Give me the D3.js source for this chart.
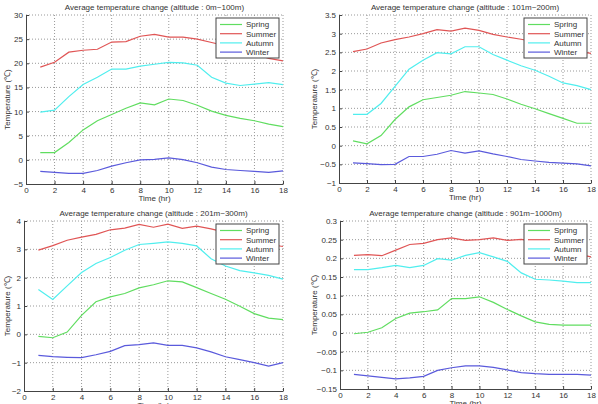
<!DOCTYPE html>
<html>
<head>
<meta charset="utf-8">
<script src="https://cdn.jsdelivr.net/npm/d3@7"></script>
<style>
  body { margin: 0; background: #fff; }
  svg { display: block; font-family: "Liberation Sans", Arial, sans-serif; }
  .tick-label { font-size: 8px; fill: #333; }
  .title { font-size: 8px; fill: #333; }
  .axis-label { font-size: 8px; fill: #333; }
  .legend-text { font-size: 8px; fill: #333; }
</style>
</head>
<body>
<div id="chart"></div>
<script>
// hours of the day
let hours = [1, 2, 3, 4, 5, 6, 7, 8, 9, 10, 11, 12, 13, 14, 15, 16, 17, 18];
let xTicks = [0, 2, 4, 6, 8, 10, 12, 14, 16, 18];
let seasons = ["Spring", "Summer", "Autumn", "Winter"];
let seasonColors = ["#60dd60", "#e05555", "#50eeee", "#5a5adc"];

let titles = [
    "Average temperature change (altitude : 0m~100m)",
    "Average temperature change (altitude : 101m~200m)",
    "Average temperature change (altitude : 201m~300m)",
    "Average temperature change (altitude : 901m~1000m)"
];

// y tick labels for each panel
let yTicks1 = [-5, 0, 5, 10, 15, 20, 25, 30];
let yTicks2 = [-1, -0.5, 0, 0.5, 1, 1.5, 2, 2.5, 3, 3.5];
let yTicks3 = [-2, -1, 0, 1, 2, 3, 4];
let yTicks4 = [-0.15, -0.1, -0.05, 0, 0.05, 0.1, 0.15, 0.2, 0.25, 0.3];

// altitude 0m~100m
let spring1 = [1.5, 1.5, 3.6, 6.2, 8.1, 9.4, 10.7, 11.8, 11.4, 12.6, 12.3, 11.3, 10.1, 9.2, 8.6, 8.1, 7.4, 6.9];
let summer1 = [19.2, 20.2, 22.3, 22.7, 22.9, 24.4, 24.5, 25.6, 26.0, 25.4, 25.4, 25.0, 24.3, 23.6, 22.8, 22.0, 21.0, 20.5];
let autumn1 = [9.9, 10.3, 13.1, 15.6, 17.1, 18.8, 18.8, 19.4, 19.8, 20.2, 20.1, 19.6, 17.1, 15.9, 15.4, 15.7, 16.0, 15.6];
let winter1 = [-2.4, -2.6, -2.8, -2.8, -2.2, -1.3, -0.6, 0.0, 0.1, 0.4, 0.05, -0.6, -1.5, -2.0, -2.2, -2.4, -2.6, -2.3];

// altitude 101m~200m
let spring2 = [0.13, 0.05, 0.27, 0.70, 1.04, 1.23, 1.29, 1.35, 1.45, 1.41, 1.37, 1.25, 1.11, 0.99, 0.86, 0.73, 0.60, 0.60];
let summer2 = [2.52, 2.59, 2.75, 2.84, 2.91, 3.00, 3.11, 3.07, 3.15, 3.09, 2.98, 2.91, 2.85, 2.78, 2.70, 2.62, 2.53, 2.47];
let autumn2 = [0.84, 0.84, 1.13, 1.59, 2.05, 2.29, 2.49, 2.46, 2.65, 2.65, 2.44, 2.29, 2.14, 2.02, 1.86, 1.68, 1.61, 1.50];
let winter2 = [-0.46, -0.48, -0.51, -0.50, -0.29, -0.29, -0.23, -0.13, -0.20, -0.14, -0.22, -0.29, -0.37, -0.41, -0.45, -0.47, -0.49, -0.54];

// altitude 201m~300m
let spring3 = [-0.07, -0.12, 0.08, 0.67, 1.15, 1.32, 1.44, 1.64, 1.75, 1.89, 1.85, 1.65, 1.44, 1.24, 0.99, 0.73, 0.57, 0.52];
let summer3 = [2.97, 3.13, 3.32, 3.43, 3.53, 3.69, 3.75, 3.88, 3.78, 3.89, 3.74, 3.82, 3.72, 3.60, 3.45, 3.30, 3.18, 3.10];
let autumn3 = [1.58, 1.23, 1.71, 2.18, 2.50, 2.71, 2.97, 3.17, 3.21, 3.26, 3.21, 3.12, 2.67, 2.41, 2.25, 2.17, 2.08, 1.95];
let winter3 = [-0.74, -0.79, -0.81, -0.82, -0.72, -0.60, -0.40, -0.36, -0.30, -0.39, -0.39, -0.48, -0.62, -0.79, -0.89, -1.00, -1.12, -1.00];

// altitude 901m~1000m
let spring4 = [-0.002, 0.002, 0.014, 0.039, 0.053, 0.057, 0.062, 0.092, 0.092, 0.097, 0.082, 0.063, 0.046, 0.030, 0.023, 0.021, 0.021, 0.021];
let summer4 = [0.208, 0.210, 0.207, 0.222, 0.237, 0.240, 0.250, 0.255, 0.248, 0.250, 0.255, 0.248, 0.251, 0.245, 0.235, 0.225, 0.212, 0.204];
let autumn4 = [0.170, 0.170, 0.175, 0.181, 0.175, 0.181, 0.199, 0.195, 0.208, 0.215, 0.204, 0.192, 0.161, 0.144, 0.142, 0.139, 0.135, 0.135];
let winter4 = [-0.111, -0.115, -0.119, -0.123, -0.120, -0.116, -0.100, -0.093, -0.088, -0.088, -0.092, -0.099, -0.106, -0.109, -0.111, -0.111, -0.111, -0.113];

// plot boxes in page pixels
let panels = [
    {left: 26, right: 283, top: 15, bottom: 184, yTicks: yTicks1, series: [spring1, summer1, autumn1, winter1], yLabelX: 7},
    {left: 339, right: 591, top: 15, bottom: 183, yTicks: yTicks2, series: [spring2, summer2, autumn2, winter2], yLabelX: 314},
    {left: 24, right: 283, top: 221, bottom: 391, yTicks: yTicks3, series: [spring3, summer3, autumn3, winter3], yLabelX: 7},
    {left: 340, right: 591, top: 221, bottom: 389, yTicks: yTicks4, series: [spring4, summer4, autumn4, winter4], yLabelX: 314}
];

let svg = d3.select("#chart").append("svg")
    .attr("width", 598)
    .attr("height", 404);

panels.forEach((p, i) => drawPanel(p, titles[i]));

function drawPanel(p, title){
    let g = svg.append("g");

    let xScale = d3.scaleLinear()
        .domain([0, 18])
        .range([p.left, p.right]);

    let yScale = d3.scaleLinear()
        .domain(d3.extent(p.yTicks))
        .range([p.bottom, p.top]);

    // dotted grid
    g.append("g")
        .selectAll("line")
        .data(xTicks.slice(1))
        .join("line")
        .attr("x1", d => xScale(d)).attr("x2", d => xScale(d))
        .attr("y1", p.top).attr("y2", p.bottom)
        .attr("stroke", "#999")
        .attr("stroke-dasharray", "1,2");

    g.append("g")
        .selectAll("line")
        .data(p.yTicks.slice(1))
        .join("line")
        .attr("x1", p.left).attr("x2", p.right)
        .attr("y1", d => yScale(d)).attr("y2", d => yScale(d))
        .attr("stroke", "#999")
        .attr("stroke-dasharray", "1,2");

    // axes (matlab style: ticks pointing inwards)
    let xAxis = d3.axisBottom(xScale)
        .tickValues(xTicks)
        .tickSizeInner(-3)
        .tickSizeOuter(0)
        .tickPadding(3);

    let xg = g.append("g")
        .attr("transform", "translate(0," + p.bottom + ")")
        .call(xAxis);

    let yAxis = d3.axisLeft(yScale)
        .tickValues(p.yTicks)
        .tickFormat(d3.format("~g"))
        .tickSizeInner(-3)
        .tickSizeOuter(0)
        .tickPadding(3);

    let yg = g.append("g")
        .attr("transform", "translate(" + p.left + ",0)")
        .call(yAxis);

    [xg, yg].forEach(a => {
        a.select(".domain").attr("stroke", "#444");
        a.selectAll(".tick line").attr("stroke", "#444");
        a.selectAll(".tick text")
            .attr("class", "tick-label")
            .attr("font-size", null)
            .attr("font-family", null)
            .attr("fill", null);
        a.attr("font-size", null).attr("font-family", null);
    });

    // lines
    let line = d3.line()
        .x((d, j) => xScale(hours[j]))
        .y(d => yScale(d));

    p.series.forEach((s, k) => {
        g.append("path")
            .datum(s)
            .attr("fill", "none")
            .attr("stroke", seasonColors[k])
            .attr("stroke-width", 1.2)
            .attr("d", line);
    });

    // title
    g.append("text")
        .attr("class", "title")
        .attr("x", (p.left + p.right) / 2)
        .attr("y", p.top - 5)
        .attr("text-anchor", "middle")
        .text(title);

    g.append("text")
        .attr("class", "axis-label")
        .attr("x", (p.left + p.right) / 2)
        .attr("y", p.bottom + 17)
        .attr("text-anchor", "middle")
        .text("Time (hr)");

    g.append("text")
        .attr("class", "axis-label")
        .attr("transform", "translate(" + p.yLabelX + "," + ((p.top + p.bottom) / 2) + ") rotate(-90)")
        .attr("dy", "0.35em")
        .attr("text-anchor", "middle")
        .text("Temperature (\u2103)");

    // legend
    let lw = 63, lh = 40;
    let legend = g.append("g")
        .attr("transform", "translate(" + (p.right - lw - 4) + "," + (p.top + 3) + ")");

    legend.append("rect")
        .attr("width", lw)
        .attr("height", lh)
        .attr("fill", "#fff")
        .attr("stroke", "#444");

    seasons.forEach((name, k) => {
        let yy = 6.5 + k * 9.2;
        legend.append("line")
            .attr("x1", 4).attr("x2", 26)
            .attr("y1", yy).attr("y2", yy)
            .attr("stroke", seasonColors[k])
            .attr("stroke-width", 1.2);
        legend.append("text")
            .attr("class", "legend-text")
            .attr("x", 30)
            .attr("y", yy)
            .attr("dy", "0.35em")
            .text(name);
    });
}
</script>
</body>
</html>
